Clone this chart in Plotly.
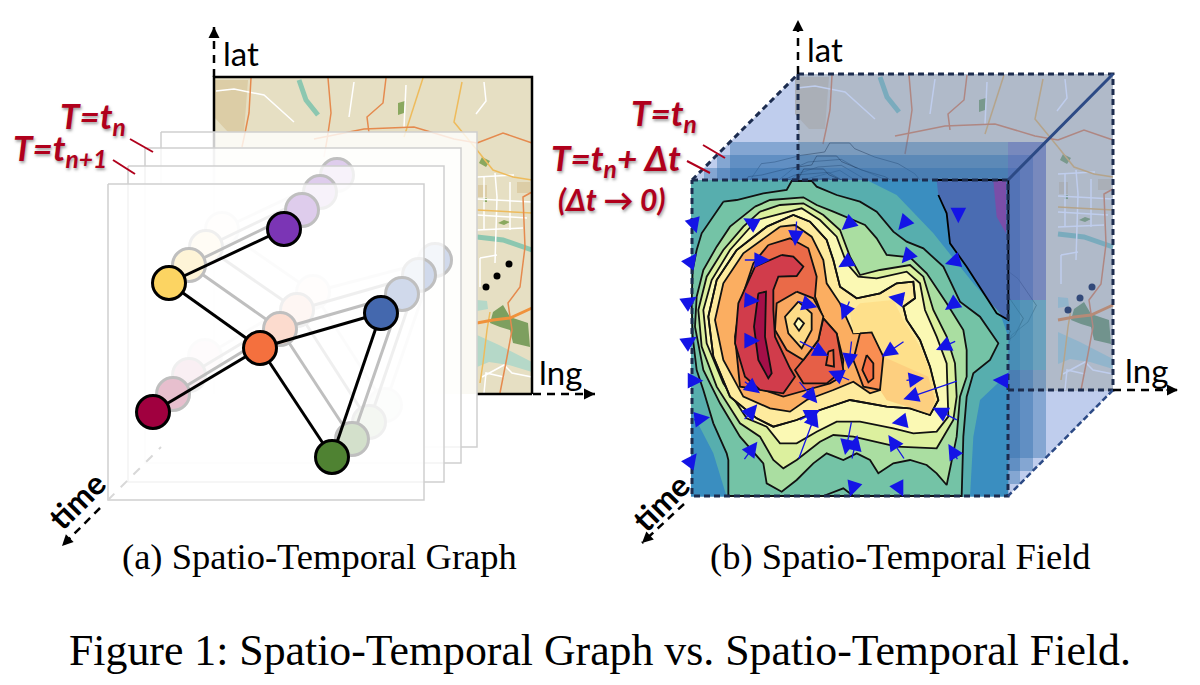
import plotly.graph_objects as go

# ---- panel (a): graph layers, front to back
NODE_COLORS = ["#7b35b5", "#fcd462", "#f4703e", "#4468ae", "#a0003f", "#4f8232"]
NODES_FRONT = [(284, 229), (169, 283), (260, 348), (381, 313), (153, 412), (332, 457)]
NODES_LAYER1 = [(302, 210), (189, 265), (280, 329), (402, 294), (173, 394), (352, 439)]
NODES_LAYER2 = [(320, 192), (206, 247), (297, 310), (419, 275), (189, 375), (369, 422)]
NODES_LAYER3 = [(337, 175), (222, 229), (313, 292), (435, 260), (205, 356), (385, 405)]
EDGES = [(0, 1), (1, 2), (2, 4), (2, 3), (2, 5), (3, 5)]

PLANE_LEFT = [108, 128, 145, 161]
PLANE_RIGHT = [424, 444, 461, 477]
PLANE_TOP = [184, 166, 148, 132]
PLANE_BOTTOM = [500, 482, 463, 447]

# ---- map, in local coordinates from the top left corner of the map
ROADS_ORANGE = [
    [(37, 1), (35, 36), (31, 56), (28, 70)],
    [(114, 1), (117, 36), (113, 63), (110, 80)],
    [(172, 1), (169, 26), (153, 40), (155, 56)],
    [(263, 66), (289, 56), (318, 66)],
    [(318, 115), (309, 120), (311, 170), (306, 210), (294, 226), (298, 253), (293, 280), (286, 316)],
    [(100, 62), (150, 52), (200, 50), (240, 62), (263, 66)],
]
ROADS_THICK = [[(263, 246), (279, 243), (296, 241), (318, 231)]]
ROADS_YELLOW = [
    [(209, 1), (195, 43), (190, 60)],
    [(263, 73), (279, 93), (299, 100), (318, 103)],
    [(263, 133), (318, 136)],
    [(276, 235), (273, 253), (269, 286), (266, 306)],
    [(248, 5), (240, 45), (263, 73)],
]
ROADS_WHITE = [
    [(2, 14), (20, 12), (50, 18), (80, 45)],
    [(262, 37), (272, 24), (270, 5)],
    [(281, 96), (283, 120), (281, 186)],
    [(266, 181), (266, 210)],
    [(263, 138), (313, 141)],
    [(263, 153), (309, 151)],
    [(266, 181), (283, 178)],
    [(263, 100), (300, 98)],
    [(263, 122), (318, 125)],
    [(270, 100), (270, 153)],
    [(296, 105), (296, 153)],
    [(140, 5), (135, 40)],
    [(192, 8), (190, 50)],
    [(268, 300), (290, 288), (298, 296), (318, 300)],
    [(270, 316), (272, 296), (290, 300)],
]
RIVERS = [
    [(85, 3), (92, 23), (104, 38)],
    [(263, 160), (289, 163), (318, 173)],
]
WATER = [(263, 258), (285, 268), (318, 285), (318, 295), (295, 288), (275, 285), (263, 290)]
LAKE = [(263, 223), (273, 224), (274, 232), (263, 234)]
PARK = [(279, 235), (289, 228), (296, 240), (314, 246), (316, 270), (299, 266), (296, 253), (286, 250), (276, 246)]
PATCHES_GREEN = [
    [(184, 26), (191, 24), (190, 36), (184, 38)],
    [(268, 80), (276, 84), (272, 90), (265, 86)],
    [(284, 146), (290, 143), (296, 145), (290, 148)],
    [(269, 121), (273, 121), (273, 125), (269, 125)],
]
PATCHES_TAN = [
    [(264, 108), (273, 108), (273, 120), (264, 120)],
    [(303, 105), (316, 105), (316, 116), (303, 116)],
    [(0, 3), (34, 3), (30, 55), (14, 55), (0, 40)],
]
DOTS_A = [(509, 264), (497, 276), (486, 287)]
DOTS_B = [(1092, 287), (1080, 298), (1068, 310)]

FIELD_BASE = [(33, 30), (985, 30), (985, 980), (33, 980)]
DARK_BLUE = [(770, 30), (985, 30), (985, 450), (950, 430), (860, 290), (810, 220), (800, 130), (775, 75)]
PURPLE = [(940, 32), (978, 32), (978, 190), (950, 140)]
TEAL = [(33, 30), (560, 30), (650, 75), (760, 190), (880, 340), (960, 430), (985, 500), (985, 610),
        (900, 690), (880, 800), (870, 980), (140, 980), (100, 850), (33, 720)]
RING_0 = [(130, 95), (170, 90), (250, 70), (320, 60), (335, 33), (395, 33), (410, 50), (470, 75), (540, 95), (590, 125),
          (640, 185), (680, 215), (730, 235), (790, 290), (840, 395), (900, 440), (955, 520), (930, 570), (880, 610),
          (860, 680), (850, 800), (845, 978), (145, 978), (145, 870), (140, 850), (100, 760), (70, 660), (50, 600),
          (38, 500), (35, 400), (38, 300), (50, 240), (65, 190)]
RING_1 = [(225, 110), (270, 90), (370, 82), (410, 105), (460, 125), (520, 150), (555, 165), (590, 205), (620, 255),
          (690, 262), (740, 310), (800, 400), (850, 480), (860, 540), (860, 620), (840, 680), (830, 800), (800, 945),
          (770, 910), (740, 885), (690, 870), (640, 880), (595, 910), (570, 870), (530, 850), (490, 870), (440, 850),
          (400, 880), (350, 930), (305, 965), (260, 940), (250, 880), (180, 800), (120, 700), (70, 600), (45, 470),
          (50, 380), (70, 300), (110, 230), (150, 170)]
RING_2 = [(240, 125), (300, 105), (370, 100), (430, 135), (480, 180), (510, 260), (540, 315), (600, 300), (690, 285),
          (730, 320), (760, 420), (800, 500), (825, 580), (830, 680), (820, 750), (770, 835), (650, 830), (520, 800),
          (460, 795), (420, 815), (350, 870), (310, 895), (280, 870), (240, 800), (180, 760), (110, 650), (65, 530),
          (55, 420), (80, 320), (130, 240), (190, 170)]
RING_3 = [(230, 150), (310, 130), (365, 115), (420, 150), (470, 200), (500, 280), (535, 320), (590, 325), (680, 305),
          (720, 340), (735, 420), (770, 500), (800, 580), (805, 740), (770, 785), (700, 790), (640, 775), (540, 755),
          (470, 755), (410, 785), (350, 820), (300, 820), (260, 770), (200, 745), (130, 640), (80, 520), (70, 420),
          (95, 330), (150, 240)]
RING_4 = [(260, 170), (340, 135), (390, 155), (440, 210), (460, 270), (480, 350), (530, 385), (600, 370), (650, 340),
          (700, 335), (705, 385), (670, 410), (680, 450), (720, 510), (750, 590), (775, 690), (750, 735), (690, 715),
          (620, 710), (510, 690), (420, 720), (350, 750), (280, 770), (230, 745), (150, 680), (100, 560), (85, 440),
          (110, 330), (170, 240)]
RING_5 = [(300, 170), (345, 165), (395, 200), (430, 270), (440, 340), (480, 400), (520, 490), (575, 487), (610, 560),
          (600, 660), (570, 670), (520, 635), (460, 660), (380, 690), (330, 725), (270, 715), (190, 680), (130, 570),
          (105, 450), (130, 340), (190, 250)]
RING_6 = [(265, 225), (330, 205), (385, 235), (410, 320), (405, 380), (430, 445), (470, 490), (490, 570), (485, 620),
          (450, 640), (380, 660), (310, 680), (250, 660), (180, 650), (165, 500), (180, 400), (220, 280)]
RING_7 = [(305, 255), (340, 260), (370, 290), (350, 318), (295, 320), (280, 360), (280, 420), (285, 500), (330, 595),
          (345, 620), (310, 670), (240, 660), (195, 620), (165, 520), (175, 400), (225, 290)]
RING_8 = [(235, 370), (258, 365), (255, 500), (275, 610), (265, 625), (235, 570), (222, 470)]
PEAK_A = [(430, 445), (470, 490), (490, 600), (440, 640), (370, 640), (345, 600), (370, 570), (415, 510)]
PEAK_A_TOP = [(445, 545), (460, 540), (462, 590), (438, 585)]
PEAK_B = [(540, 490), (575, 487), (610, 560), (600, 660), (550, 650), (520, 570)]
PEAK_B_TOP = [(560, 555), (580, 580), (580, 625), (565, 637), (547, 600)]
WARM_LOBE = [(540, 400), (640, 390), (670, 450), (720, 530), (750, 600), (770, 690), (750, 735), (690, 715), (620, 690),
             (600, 660), (610, 560), (575, 487), (520, 490), (510, 430)]
WARMER_LOBE = [(610, 560), (680, 590), (745, 620), (765, 690), (750, 730), (690, 712), (620, 690), (600, 660)]
HOLE_0 = [(350, 365), (400, 385), (430, 440), (415, 510), (370, 570), (320, 540), (285, 480), (290, 400)]
HOLE_1 = [(355, 395), (395, 430), (395, 480), (365, 535), (325, 490), (315, 440)]
HOLE_2 = [(355, 443), (372, 460), (357, 482), (343, 462)]
BOTTOM_ARC = [(430, 978), (490, 955), (520, 978)]

ARROWS = [
    (235, 170, 190, 145), (350, 150, 345, 228), (190, 270, 270, 270), (520, 150, 485, 180), (685, 145, 655, 180),
    (695, 245, 665, 280), (835, 270, 795, 282), (515, 268, 475, 292), (510, 390, 485, 450), (675, 390, 625, 380),
    (830, 395, 795, 420), (190, 390, 240, 393), (350, 393, 412, 412), (190, 512, 240, 512), (355, 512, 445, 558),
    (515, 510, 505, 597), (675, 512, 605, 560), (830, 512, 768, 540), (35, 632, 70, 632), (512, 632, 445, 603),
    (675, 632, 733, 624), (835, 632, 670, 688), (190, 632, 240, 670), (355, 632, 412, 700), (985, 632, 938, 630),
    (38, 750, 90, 742), (190, 752, 232, 703), (355, 752, 420, 720), (355, 870, 410, 722), (515, 752, 495, 855),
    (515, 870, 532, 795), (675, 752, 635, 760), (675, 870, 625, 795), (835, 752, 758, 713), (835, 872, 805, 822),
    (190, 872, 232, 815), (38, 150, 50, 190), (35, 270, 50, 250), (35, 390, 50, 380), (35, 510, 50, 500),
    (35, 870, 50, 850), (835, 115, 835, 160), (520, 950, 510, 980), (655, 950, 670, 980),
]
SLICE_OFFSETS = [38, 25, 12]


def crop(points):
    return [(680 + x / 3, 170 + y / 3) for x, y in points]


fig = go.Figure()


def poly(points, fill, line=None, width=1, dash=None, closed=True):
    pts = list(points) + ([points[0]] if closed else [])
    fig.add_trace(go.Scatter(
        x=[p[0] for p in pts], y=[p[1] for p in pts],
        mode="lines", fill="toself" if fill else "none", fillcolor=fill,
        line=dict(color=line or "rgba(0,0,0,0)", width=width if line else 0, dash=dash),
        hoverinfo="skip", showlegend=False,
    ))


def draw_map(ox, oy, left=0):
    def shift(pts):
        return [(ox + x, oy + y) for x, y in pts]
    poly(shift([(left, 0), (318, 0), (318, 317), (left, 317)]), "#e6dfc3")
    for p in PATCHES_TAN:
        poly(shift(p), "#dccda6")
    poly(shift(WATER), "#b5d8c8")
    poly(shift(LAKE), "#b5d8c8")
    poly(shift(PARK), "#7d9f5f")
    for p in PATCHES_GREEN:
        poly(shift(p), "#8aa85f")
    for r in RIVERS:
        poly(shift(r), None, "#8cc7b0", 5, closed=False)
    for r in ROADS_WHITE:
        poly(shift(r), None, "#ffffff", 1.5, closed=False)
    for r in ROADS_YELLOW:
        poly(shift(r), None, "#eebb5c", 1.5, closed=False)
    for r in ROADS_ORANGE:
        poly(shift(r), None, "#e58a4e", 1.5, closed=False)
    for r in ROADS_THICK:
        poly(shift(r), None, "#f0923c", 3, closed=False)


def draw_graph(nodes, colors, edge_width=3):
    for a, b in EDGES:
        poly([nodes[a], nodes[b]], None, "#000000", edge_width, closed=False)
    fig.add_trace(go.Scatter(
        x=[n[0] for n in nodes], y=[n[1] for n in nodes], mode="markers",
        marker=dict(size=33, color=colors, line=dict(color="#000000", width=3)),
        hoverinfo="skip", showlegend=False,
    ))


def plane(i, alpha):
    l, r, t, b = PLANE_LEFT[i], PLANE_RIGHT[i], PLANE_TOP[i], PLANE_BOTTOM[i]
    poly([(l, t), (r, t), (r, b), (l, b)], f"rgba(255,255,255,{alpha})", "#cfcfcf", 1.5)


# panel (a)
draw_map(214, 77)
poly([(214, 394), (214, 77), (532, 77), (532, 394)], None, "#000000", 2.5, closed=False)
poly([(477, 394), (532, 394)], None, "#000000", 2.5, closed=False)
fig.add_trace(go.Scatter(x=[d[0] for d in DOTS_A], y=[d[1] for d in DOTS_A], mode="markers",
                         marker=dict(size=7, color="#000000"), hoverinfo="skip", showlegend=False))
plane(3, 0.8)
draw_graph(NODES_LAYER3, NODE_COLORS)
plane(2, 0.75)
draw_graph(NODES_LAYER2, NODE_COLORS)
plane(1, 0.75)
draw_graph(NODES_LAYER1, NODE_COLORS)
plane(0, 0.75)
poly([(108, 500), (161, 447)], None, "#d8d8d8", 2, "dash", closed=False)
draw_graph(NODES_FRONT, NODE_COLORS)

# panel (b): back of the cube
draw_map(795, 74, left=3)
fig.add_trace(go.Scatter(x=[d[0] for d in DOTS_B], y=[d[1] for d in DOTS_B], mode="markers",
                         marker=dict(size=7, color="#14233f"), hoverinfo="skip", showlegend=False))
poly([(692, 180), (798, 74), (1113, 74), (1008, 180)], "rgba(95,130,210,0.4)")
poly([(1008, 180), (1113, 74), (1113, 390), (1008, 496)], "rgba(95,130,210,0.4)")

# fading field slices behind the front face
for o in SLICE_OFFSETS:
    poly([(692 + o, 180 - o), (1008 + o, 180 - o), (1008 + o, 496 - o), (692 + o, 496 - o)], "rgba(50,112,175,0.42)")
    for ring in (RING_0, RING_1, RING_2, RING_3):
        poly([(x + o, y - o) for x, y in crop(ring)], None, "rgba(20,40,70,0.4)", 1)
poly([(1008, 142), (1046, 142), (1046, 300), (1008, 300)], "rgba(110,85,190,0.25)")
poly([(1008, 300), (1046, 300), (1046, 370), (1008, 370)], "rgba(70,175,190,0.3)")

# panel (b): front face
poly(crop(FIELD_BASE), "#3a8ec0")
poly(crop(DARK_BLUE), "#4a6cb2")
poly(crop(PURPLE), "#7a4ea8")
poly(crop(TEAL), "#57aeae")
RINGS = [(RING_0, "#74c3a6"), (RING_1, "#aadea1"), (RING_2, "#dcf09e"), (RING_3, "#fbf9b4"), (RING_4, "#feeb9e"),
         (RING_5, "#fbae61"), (RING_6, "#ea6a48"), (RING_7, "#d13c4b"), (RING_8, "#a50f48")]
poly(crop(DARK_BLUE), None, "#000000", 1.8, closed=False)
for ring, color in RINGS:
    poly(crop(ring), color, "#111111", 1.8)
poly(crop(WARM_LOBE), "#fee08b")
poly(crop(WARMER_LOBE), "#fdcf7f")
poly(crop(RING_4), None, "#111111", 1.8)
poly(crop(PEAK_A), "#e65f47", "#111111", 1.8)
poly(crop(PEAK_A_TOP), "#ef6f45", "#111111", 1.8)
poly(crop(PEAK_B), "#f98e52", "#111111", 1.8)
poly(crop(PEAK_B_TOP), "#f46d43", "#111111", 1.8)
poly(crop(HOLE_0), "#f9a85f", "#111111", 1.8)
poly(crop(HOLE_1), "#fedc88", "#111111", 1.8)
poly(crop(HOLE_2), "#ffffbf", "#111111", 1.8)
poly(crop(BOTTOM_ARC), None, "#111111", 1.8, closed=False)

# cube edges
NAVY = "#1c2c4f"
poly([(692, 180), (1008, 180), (1008, 496), (692, 496)], None, NAVY, 3, "6px,4px")
poly([(692, 180), (798, 74)], None, NAVY, 3, "6px,4px", closed=False)
poly([(798, 74), (1113, 74), (1113, 390), (1008, 390)], None, NAVY, 3, "6px,4px", closed=False)
poly([(798, 74), (798, 180)], None, NAVY, 3, "6px,4px", closed=False)
poly([(1113, 74), (1008, 180)], None, "#2c4a85", 3, closed=False)
poly([(1113, 390), (1008, 496)], None, "#2c4a85", 2.5, "6px,3px", closed=False)

annotations = []


def arrow(x0, y0, x1, y1, color="#000000", width=2.5, size=1, head=2):
    annotations.append(dict(x=x1, y=y1, ax=x0, ay=y0, xref="x", yref="y", axref="x", ayref="y", text="",
                            showarrow=True, arrowcolor=color, arrowwidth=width, arrowsize=size, arrowhead=head,
                            standoff=0, startstandoff=0))


def label(x, y, text, size, family="Lato", color="#000000", **font):
    angle = font.pop("textangle", 0)
    annotations.append(dict(x=x, y=y, xref="x", yref="y", text=text, showarrow=False, textangle=angle,
                            font=dict(size=size, family=family, color=color, **font)))


for tx, ty, hx, hy in ARROWS:
    (x0, y0), (x1, y1) = crop([(tx, ty), (hx, hy)])
    arrow(x0, y0, x1, y1, "#1414e6", 1.3, 2.4)

# dashed axes, drawn with a dashed line and a short arrow tip
AXES_A = [(214, 77, 214, 27), (533, 394, 595, 394), (100, 508, 62, 546)]
AXES_B = [(798, 74, 798, 20), (1113, 390, 1178, 390), (684, 504, 642, 543)]
for x0, y0, x1, y1 in AXES_A + AXES_B:
    poly([(x0, y0), (x1, y1)], None, "#000000", 2.5, "8px,6px", closed=False)
    arrow(x0 + (x1 - x0) * 0.8, y0 + (y1 - y0) * 0.8, x1, y1, "#000000", 2.2, 1)

RED = "#b0001c"
SHADOW = "1px 2px 3px rgba(90,90,90,0.6)"
poly([(130, 139), (153, 152)], None, RED, 2, closed=False)
poly([(113, 160), (135, 174)], None, RED, 2, closed=False)
poly([(703, 145), (725, 158)], None, RED, 2, closed=False)
poly([(687, 161), (710, 173)], None, RED, 2, closed=False)

label(241, 53, "lat", 33)
label(825, 49, "lat", 33)
label(560, 372, "lng", 33)
label(1146, 370, "lng", 33)
label(76, 500, "time", 32, weight="bold", textangle=-45)
label(660, 502, "time", 32, weight="bold", textangle=-45)
red = dict(color=RED, style="italic", weight="bold", shadow=SHADOW)
label(93, 117, "T=t<sub>n</sub>", 35, **red)
label(60, 149, "T=t<sub>n+1</sub>", 35, **red)
label(664, 114, "T=t<sub>n</sub>", 35, **red)
label(616, 159, "T=t<sub>n</sub>+ Δt", 35, **red)
label(611, 199, "(Δt → 0)", 30, **red)

label(319, 556, "(a) Spatio-Temporal Graph", 36.5, family="Liberation Serif")
label(900, 556, "(b) Spatio-Temporal Field", 36.5, family="Liberation Serif")
label(600, 650, "Figure 1: Spatio-Temporal Graph vs. Spatio-Temporal Field.", 43.8, family="Liberation Serif")

fig.update_layout(
    width=1200, height=685, margin=dict(l=0, r=0, t=0, b=0),
    paper_bgcolor="#ffffff", plot_bgcolor="#ffffff", showlegend=False,
    xaxis=dict(range=[0, 1200], visible=False, fixedrange=True),
    yaxis=dict(range=[685, 0], visible=False, fixedrange=True),
    annotations=annotations,
)
# the page body has a default margin that would shift the figure
fig.write_html("out.html", config={"displayModeBar": False}, post_script="document.body.style.margin='0';")
